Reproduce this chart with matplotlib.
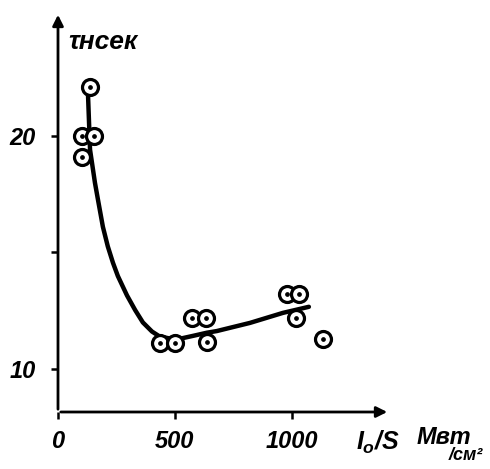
"""
tau (ns) vs I0/S, hand-drawn style
"""
import matplotlib
matplotlib.use("Agg")
import matplotlib.pyplot as plt
from matplotlib.font_manager import FontProperties

plt.rcParams['mathtext.fontset'] = 'custom'
plt.rcParams['mathtext.it'] = 'Liberation Sans:italic:bold'
plt.rcParams['mathtext.rm'] = 'Liberation Sans:italic:bold'

# measured points
pts_x = [137, 103, 154, 103, 436, 500, 573, 632, 637, 979, 1030, 1017, 1132]
pts_y = [22.1, 20.0, 20.0, 19.1, 11.1, 11.1, 12.2, 12.2, 11.15, 13.2, 13.2, 12.2, 11.3]

# hand-drawn curve
curve_x = [128, 137, 158, 171, 192, 213, 235, 256, 295, 330, 363, 402, 436, 480, 521, 580, 637, 679, 821, 962, 1073]
curve_y = [21.85, 19.4, 17.98, 17.25, 16.09, 15.25, 14.55, 13.98, 13.15, 12.52, 11.99, 11.6, 11.38, 11.3, 11.29, 11.42, 11.55, 11.62, 11.97, 12.40, 12.66]

xticks = [0, 500, 1000]
xlabels = ['0', '500', '1000']
yticks = [10, 15, 20]
ylabels = ['10', '', '20']

fnt = dict(family='Liberation Sans', style='italic', weight='bold')

fig = plt.figure(figsize=(4.9, 4.69), dpi=100)
ax = fig.add_axes([58/490, 57/469, 332/490, 400/469])
ax.set_xlim(0, 1420)
ax.set_ylim(8.15, 25.3)
for s in ax.spines.values():
    s.set_visible(False)

# axes with arrows
ax.annotate('', xy=(1420, 8.15), xytext=(0, 8.15),
            arrowprops=dict(arrowstyle='-|>', lw=2, color='k', mutation_scale=16),
            annotation_clip=False)
ax.annotate('', xy=(0, 25.3), xytext=(0, 8.15),
            arrowprops=dict(arrowstyle='-|>', lw=2, color='k', mutation_scale=16),
            annotation_clip=False)

ax.plot(curve_x, curve_y, color='k', lw=3.2, solid_capstyle='round',
        solid_joinstyle='round', zorder=3)
ax.plot(pts_x, pts_y, 'o', ms=11.5, mfc='white', mec='k', mew=2.3, zorder=4)
ax.plot(pts_x, pts_y, 'o', ms=2.4, color='k', zorder=5)

ax.set_xticks(xticks, xlabels)
ax.set_yticks(yticks, ylabels)
ax.tick_params(axis='both', length=5, width=1.8, color='k')
ax.tick_params(axis='x', pad=8)
ax.tick_params(axis='y', pad=11)
for lab in ax.get_xticklabels() + ax.get_yticklabels():
    lab.set_fontproperties(FontProperties(size=17, **fnt))

fig.text(68/490, 1 - 42/469, 'τнсек', fontsize=19, va='center', ha='left', **fnt)
fig.text(356/490, 1 - 442/469, r'$I_o$/S', fontsize=18, va='center', ha='left', **fnt)
fig.text(417/490, 1 - 437/469, 'Мвт', fontsize=17, va='center', ha='left', **fnt)
fig.text(449/490, 1 - 455/469, '/см²', fontsize=13, va='center', ha='left', **fnt)

fig.savefig('out.png', dpi=100)
